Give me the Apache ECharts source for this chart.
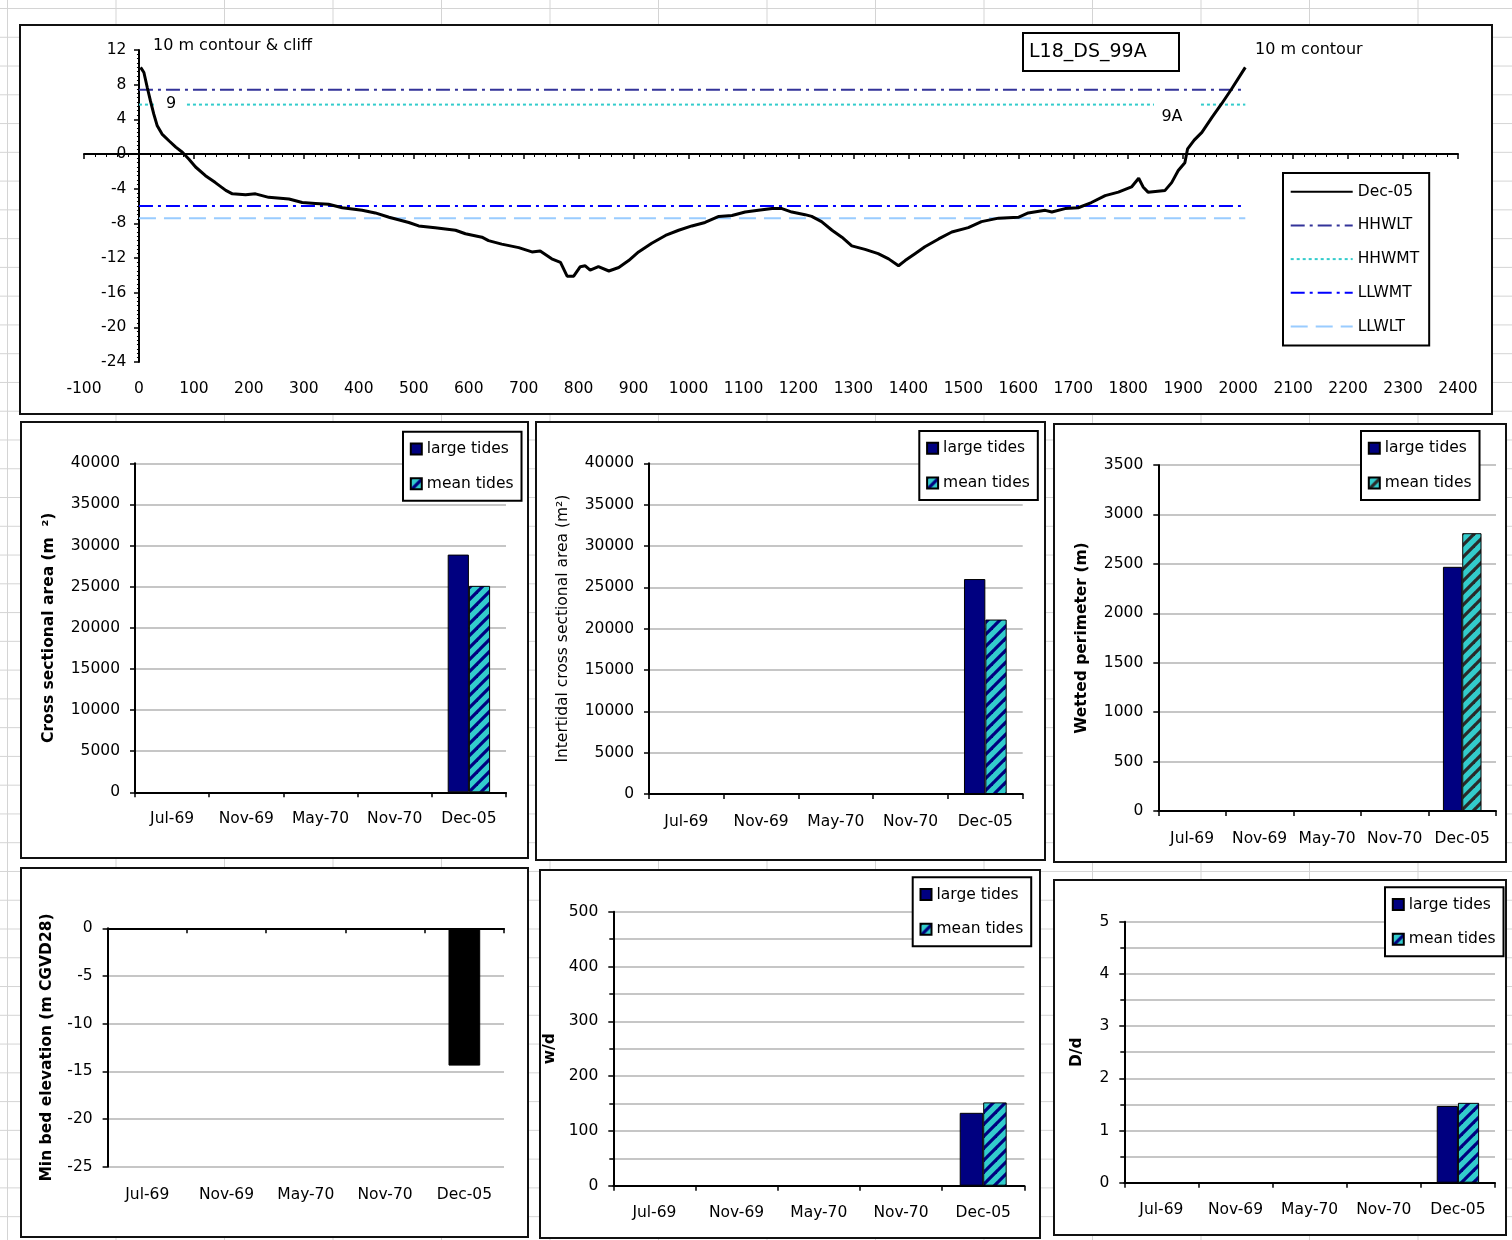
<!DOCTYPE html>
<html>
<head>
<meta charset="utf-8">
<script src="https://cdn.jsdelivr.net/npm/echarts@6/dist/echarts.min.js"></script>
<style>
  html, body { margin: 0; padding: 0; }
  body {
    width: 1512px; height: 1240px; position: relative; overflow: hidden;
    background-color: #fff;
    background-image:
      linear-gradient(to right, #d4d4d4 1px, transparent 1px),
      linear-gradient(to bottom, #d4d4d4 1px, transparent 1px);
    background-size: 108.5px 100%, 100% 28.78px;
    background-position: 7px 0, 0 8px;
  }
  .panel { position: absolute; box-sizing: border-box; border: 2px solid #111; background: #fff; }
</style>
</head>
<body>
<div id="profile" class="panel" style="left:19px;top:24px;width:1474px;height:391px"></div>
<div id="crossArea" class="panel" style="left:20px;top:421px;width:509px;height:438px"></div>
<div id="interArea" class="panel" style="left:535px;top:421px;width:511px;height:440px"></div>
<div id="perimeter" class="panel" style="left:1053px;top:423px;width:454px;height:440px"></div>
<div id="minBed" class="panel" style="left:20px;top:867px;width:509px;height:371px"></div>
<div id="wd" class="panel" style="left:539px;top:869px;width:502px;height:370px"></div>
<div id="Dd" class="panel" style="left:1053px;top:879px;width:454px;height:357px"></div>

<script>
const FONT = 'DejaVu Sans';

// survey dates on the bar charts
const dates = ['Jul-69', 'Nov-69', 'May-70', 'Nov-70', 'Dec-05'];

// Dec-05 cross-section profile (distance m, elevation m CGVD 28)
const profileDist = [3, 9, 15, 21, 27, 33, 42, 55, 67, 79,
  91, 103, 121, 139, 158, 170, 194, 212, 236, 273,
  297, 321, 345, 370, 406, 430, 455, 491, 509, 539,
  576, 594, 624, 636, 660, 691, 715, 730, 751, 767,
  779, 791, 803, 812, 821, 836, 855, 873, 891, 909,
  933, 958, 982, 1006, 1030, 1055, 1079, 1103, 1127, 1152,
  1170, 1188, 1212, 1224, 1242, 1261, 1279, 1297, 1321, 1345,
  1364, 1382, 1394, 1412, 1430, 1455, 1479, 1509, 1533, 1564,
  1600, 1618, 1649, 1661, 1685, 1709, 1733, 1758, 1782, 1806,
  1819, 1827, 1836, 1867, 1879, 1891, 1903, 1908, 1920, 1934,
  1952, 1970, 1988, 2013];
const profileElev = [10.0, 9.4, 7.7, 6.1, 4.6, 3.3, 2.3, 1.5, 0.8, 0.2,
  -0.6, -1.5, -2.5, -3.3, -4.2, -4.6, -4.7, -4.6, -5.0, -5.2,
  -5.6, -5.7, -5.8, -6.2, -6.5, -6.8, -7.3, -7.9, -8.3, -8.5,
  -8.8, -9.2, -9.6, -10.0, -10.4, -10.8, -11.3, -11.2, -12.1, -12.5,
  -14.1, -14.1, -13.0, -12.9, -13.4, -13.0, -13.5, -13.1, -12.3, -11.3,
  -10.3, -9.4, -8.8, -8.3, -7.9, -7.2, -7.1, -6.7, -6.5, -6.3,
  -6.3, -6.7, -7.0, -7.2, -7.8, -8.8, -9.6, -10.6, -11.0, -11.5,
  -12.1, -12.9, -12.3, -11.5, -10.7, -9.8, -9.0, -8.5, -7.8, -7.4,
  -7.3, -6.8, -6.5, -6.7, -6.3, -6.2, -5.6, -4.8, -4.4, -3.8,
  -2.8, -3.8, -4.4, -4.2, -3.3, -1.9, -1.0, 0.6, 1.6, 2.5,
  4.2, 5.8, 7.5, 10.0];

// tide levels drawn across the section
const tideNames = ['HHWLT', 'HHWMT', 'LLWMT', 'LLWLT'];
const tideLevels = [7.4, 5.7, -6.0, -7.4];
const tideExtent = [0, 2013];

// bar chart values (only Dec-05 surveyed)
const crossLarge = [null, null, null, null, 28900];
const crossMean = [null, null, null, null, 25100];
const interLarge = [null, null, null, null, 26000];
const interMean = [null, null, null, null, 21100];
const perimLarge = [null, null, null, null, 2470];
const perimMean = [null, null, null, null, 2810];
const minBedElev = [null, null, null, null, -14.4];
const wdLarge = [null, null, null, null, 133];
const wdMean = [null, null, null, null, 152];
const DdLarge = [null, null, null, null, 1.47];
const DdMean = [null, null, null, null, 1.53];

const NAVY = '#000080';

// turquoise fill with diagonal stripes, like the excel pattern fill
function hatch(stripe) {
  const s = 12;
  const c = document.createElement('canvas');
  c.width = c.height = s;
  const g = c.getContext('2d');
  g.fillStyle = '#33CCCC';
  g.fillRect(0, 0, s, s);
  g.strokeStyle = stripe;
  g.lineWidth = 3.2;
  for (const k of [-s, 0, s]) {
    g.beginPath();
    g.moveTo(-2, s + 2 + k);
    g.lineTo(s + 2, -2 + k);
    g.stroke();
  }
  return { image: c, repeat: 'repeat' };
}

const plain = v => String(v);
const tickLabel = { fontSize: 15.5, color: '#000', fontFamily: FONT };
const axisLineStyle = { color: '#000', width: 2 };

// ---- top: cross-section profile ----
const tideColors = ['#333399', '#33CCCC', '#0000FF', '#99CCFF'];
const tideDash = [[14, 5, 3, 5], [3, 3], [14, 5, 3, 5], [17, 8]];

const profile = echarts.init(document.getElementById('profile'));
profile.setOption({
  animation: false,
  textStyle: { fontFamily: FONT },
  grid: { left: 63, top: 24, width: 1374, height: 312, containLabel: false, outerBoundsMode: 'none' },
  legend: {
    orient: 'vertical', left: 1262, top: 147,
    itemWidth: 62, itemHeight: 14, itemGap: 17.7,
    padding: [10.7, 10, 10.9, 6.7],
    borderColor: '#000', borderWidth: 2, backgroundColor: '#fff',
    itemStyle: { opacity: 0, borderWidth: 0 },
    textStyle: { fontSize: 15.5, color: '#000', lineHeight: 14 },
    selectedMode: false,
    data: ['Dec-05'].concat(tideNames)
  },
  xAxis: {
    type: 'value', min: -100, max: 2400, interval: 100,
    axisLine: { onZero: true, lineStyle: axisLineStyle },
    axisTick: { show: true, length: 5, lineStyle: { color: '#000', width: 1.5 } },
    minorTick: { show: true, splitNumber: 5, length: 3, lineStyle: { color: '#000' } },
    axisLabel: Object.assign({ margin: 18.5, formatter: plain }, tickLabel),
    splitLine: { show: false }
  },
  yAxis: {
    type: 'value', min: -24, max: 12, interval: 4,
    name: 'Elevation (m CGVD 28)', nameLocation: 'middle', nameGap: 86,
    nameTextStyle: { fontSize: 15.5, fontWeight: 'bold', color: '#000' },
    axisLine: { show: true, onZero: true, lineStyle: axisLineStyle },
    axisTick: { show: true, length: 5, lineStyle: { color: '#000', width: 1.5 } },
    minorTick: { show: true, splitNumber: 8, length: 2, lineStyle: { color: '#000' } },
    axisLabel: Object.assign({ margin: -42.4, formatter: plain }, tickLabel),
    splitLine: { show: false }
  },
  series: [{
    name: 'Dec-05', type: 'line', symbol: 'none', z: 5,
    data: profileDist.map((d, i) => [d, profileElev[i]]),
    lineStyle: { color: '#000', width: 3 },
    itemStyle: { color: '#000' }
  }].concat(tideNames.map((n, i) => ({
    name: n, type: 'line', symbol: 'none', z: 3,
    data: tideExtent.map(x => [x, tideLevels[i]]),
    lineStyle: { color: tideColors[i], width: 2, type: tideDash[i] },
    itemStyle: { color: tideColors[i] }
  }))),
  graphic: [
    { type: 'rect', z: 10, shape: { x: 1002, y: 7, width: 156, height: 38 },
      style: { fill: '#fff', stroke: '#000', lineWidth: 2 } },
    { type: 'text', z: 11, x: 1008, y: 26,
      style: { text: 'L18_DS_99A', font: '19px "DejaVu Sans"', fill: '#000', verticalAlign: 'middle' } },
    { type: 'text', z: 11, x: 132, y: 20,
      style: { text: '10 m contour & cliff', font: '16px "DejaVu Sans"', fill: '#000', verticalAlign: 'middle' } },
    { type: 'text', z: 11, x: 1234, y: 24,
      style: { text: '10 m contour', font: '16px "DejaVu Sans"', fill: '#000', verticalAlign: 'middle' } },
    { type: 'rect', z: 10, shape: { x: 136, y: 70, width: 28, height: 16 }, style: { fill: '#fff' } },
    { type: 'text', z: 11, x: 150, y: 78,
      style: { text: '9', font: '16px "DejaVu Sans"', fill: '#000', align: 'center', verticalAlign: 'middle' } },
    { type: 'rect', z: 10, shape: { x: 1133, y: 74, width: 44, height: 28 }, style: { fill: '#fff' } },
    { type: 'text', z: 11, x: 1151, y: 91,
      style: { text: '9A', font: '16px "DejaVu Sans"', fill: '#000', align: 'center', verticalAlign: 'middle' } }
  ]
});

// ---- bar charts ----
function barChart(id, cfg) {
  const chart = echarts.init(document.getElementById(id));
  const series = cfg.series.map(s => ({
    name: s.name, type: 'bar', data: s.data,
    barGap: '0%', barCategoryGap: cfg.series.length > 1 ? '42.86%' : '60%',
    itemStyle: { color: s.color, borderColor: '#000', borderWidth: 1 },
    emphasis: { disabled: true }
  }));
  const y = {
    type: 'value', min: cfg.min, max: cfg.max, interval: cfg.interval,
    name: cfg.name, nameLocation: 'middle', nameGap: cfg.nameGap,
    nameTextStyle: { fontSize: 15.5, fontWeight: cfg.bold === false ? 'normal' : 'bold', color: '#000' },
    axisLine: { show: true, lineStyle: axisLineStyle },
    axisTick: { show: true, length: 5, lineStyle: { color: '#000', width: 1.5 } },
    axisLabel: Object.assign({ margin: 15, formatter: plain }, tickLabel),
    splitLine: { show: true, lineStyle: { color: '#c6c6c6', width: 2 } }
  };
  if (cfg.minor) {
    y.minorTick = { show: true, splitNumber: 2, length: 4, lineStyle: { color: '#000', width: 1.5 } };
    y.minorSplitLine = { show: true, lineStyle: { color: '#c6c6c6', width: 2 } };
  }
  const opt = {
    animation: false,
    textStyle: { fontFamily: FONT },
    grid: Object.assign({ containLabel: false, outerBoundsMode: 'none' }, cfg.grid),
    xAxis: {
      type: 'category', data: dates,
      axisLine: { onZero: true, lineStyle: axisLineStyle },
      axisTick: { show: true, length: 5, lineStyle: { color: '#000', width: 1.5 } },
      axisLabel: Object.assign({ margin: cfg.labelMargin, interval: 0 }, tickLabel),
      splitLine: { show: false }
    },
    yAxis: y,
    series
  };
  if (cfg.legend) {
    opt.legend = {
      orient: 'vertical', left: cfg.legend[0], top: cfg.legend[1],
      icon: 'rect', itemWidth: 11, itemHeight: 11, itemGap: 18.7,
      padding: [9.3, 8, 9, 6.8],
      borderColor: '#000', borderWidth: 2, backgroundColor: '#fff',
      textStyle: { fontSize: 15.5, color: '#000', lineHeight: 14 },
      selectedMode: false
    };
  }
  chart.setOption(opt);
  return chart;
}

barChart('crossArea', {
  grid: { left: 113, top: 40.3, width: 371, height: 329 },
  min: 0, max: 40000, interval: 5000, labelMargin: 19,
  name: 'Cross sectional area (m  ²)', nameGap: 78,
  legend: [381, 8.7],
  series: [
    { name: 'large tides', data: crossLarge, color: NAVY },
    { name: 'mean tides', data: crossMean, color: hatch(NAVY) }
  ]
});

barChart('interArea', {
  grid: { left: 112, top: 40.3, width: 373.7, height: 330.7 },
  min: 0, max: 40000, interval: 5000, labelMargin: 19.5,
  name: 'Intertidal cross sectional area (m²)', nameGap: 78, bold: false,
  legend: [382.3, 8],
  series: [
    { name: 'large tides', data: interLarge, color: NAVY },
    { name: 'mean tides', data: interMean, color: hatch(NAVY) }
  ]
});

barChart('perimeter', {
  grid: { left: 103.3, top: 40, width: 337.7, height: 346 },
  min: 0, max: 3500, interval: 500, labelMargin: 19.5,
  name: 'Wetted perimeter (m)', nameGap: 68,
  legend: [306, 6],
  series: [
    { name: 'large tides', data: perimLarge, color: NAVY },
    { name: 'mean tides', data: perimMean, color: hatch('#2a2a2a') }
  ]
});

barChart('minBed', {
  grid: { left: 85.6, top: 59.3, width: 396.4, height: 238.4 },
  min: -25, max: 0, interval: 5, labelMargin: 20,
  name: 'Min bed elevation (m CGVD28)', nameGap: 53,
  series: [
    { name: 'Dec-05', data: minBedElev, color: '#000' }
  ]
});

barChart('wd', {
  grid: { left: 72.3, top: 40.7, width: 411, height: 274 },
  min: 0, max: 500, interval: 100, labelMargin: 19, minor: true,
  name: 'w/d', nameGap: 40,
  legend: [371.7, 6.3],
  series: [
    { name: 'large tides', data: wdLarge, color: NAVY },
    { name: 'mean tides', data: wdMean, color: hatch(NAVY) }
  ]
});

barChart('Dd', {
  grid: { left: 69.3, top: 40.7, width: 370.7, height: 261 },
  min: 0, max: 5, interval: 1, labelMargin: 19, minor: true,
  name: 'D/d', nameGap: 39,
  legend: [330, 6.3],
  series: [
    { name: 'large tides', data: DdLarge, color: NAVY },
    { name: 'mean tides', data: DdMean, color: hatch(NAVY) }
  ]
});
</script>
</body>
</html>
